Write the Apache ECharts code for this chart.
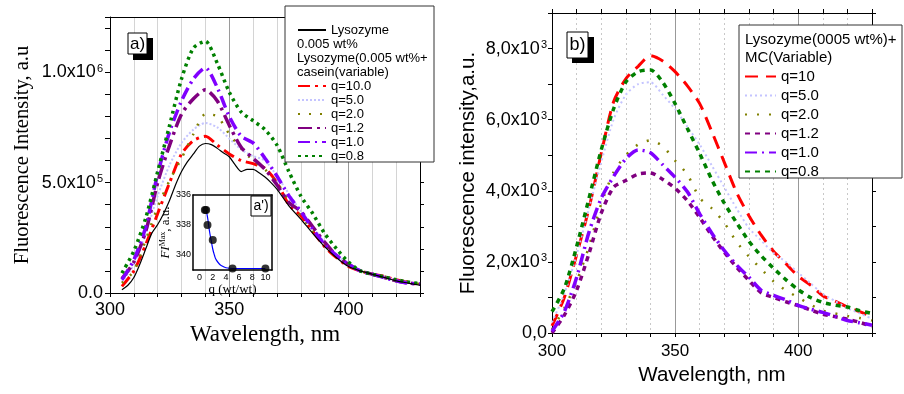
<!DOCTYPE html>
<html><head><meta charset="utf-8">
<script src="https://cdn.jsdelivr.net/npm/echarts@6/dist/echarts.min.js"></script>
<style>html,body{margin:0;padding:0;background:#fff}#c{width:904px;height:394px}</style>
</head><body><div id="c"></div>
<script>
// ---------- Panel a) casein, intensity in units of 10^6 ----------
const wlA = [305,310,315,320,325,330,335,340,345,350,355,360,365,370,375,380,385,390,395,400,405,410,415,420,425,430];
const wlLyso = [305,307.5,310,312.5,315,317.5,320,322.5,325,327.5,330,332.5,335,337.5,340,342.5,345,347.5,350,352.5,355,357.5,360,362.5,365,367.5,370,375,380,385,390,395,400,405,410,415,420,425,430];
const lysoA = [0.015,0.035,0.07,0.13,0.2,0.27,0.31,0.36,0.42,0.49,0.55,0.595,0.63,0.665,0.677,0.672,0.655,0.635,0.617,0.58,0.55,0.56,0.56,0.545,0.525,0.5,0.47,0.395,0.335,0.27,0.21,0.16,0.12,0.1,0.085,0.07,0.055,0.045,0.035];
const q10A  = [0.03,0.1,0.22,0.36,0.5,0.63,0.69,0.71,0.67,0.63,0.6,0.586,0.565,0.5,0.4,0.35,0.28,0.21,0.16,0.12,0.1,0.085,0.075,0.06,0.05,0.035];
const q5A   = [0.05,0.13,0.27,0.44,0.58,0.68,0.74,0.77,0.75,0.7,0.65,0.62,0.6,0.53,0.45,0.37,0.3,0.23,0.17,0.13,0.1,0.085,0.075,0.06,0.05,0.04];
const q2A   = [0.045,0.1,0.24,0.39,0.51,0.61,0.72,0.81,0.8,0.72,0.655,0.6,0.56,0.5,0.42,0.35,0.28,0.22,0.17,0.13,0.1,0.085,0.075,0.06,0.05,0.04];
const q12A  = [0.065,0.14,0.28,0.5,0.67,0.81,0.88,0.92,0.87,0.76,0.66,0.61,0.56,0.49,0.41,0.37,0.3,0.23,0.17,0.13,0.1,0.085,0.07,0.055,0.045,0.04];
const q1A   = [0.06,0.15,0.3,0.54,0.73,0.87,0.97,1.02,0.93,0.8,0.71,0.68,0.61,0.53,0.44,0.37,0.29,0.22,0.17,0.13,0.1,0.085,0.07,0.055,0.045,0.04];
const q08A  = [0.09,0.19,0.34,0.55,0.76,0.97,1.11,1.14,1.04,0.91,0.82,0.78,0.74,0.67,0.55,0.44,0.36,0.27,0.2,0.14,0.1,0.085,0.073,0.06,0.05,0.042];

// ---------- Panel b) MC, intensity in units of 10^3 ----------
const wlB = [300,305,310,315,320,325,330,335,340,345,350,355,360,365,370,375,380,385,390,395,400,405,410,415,420,425,430];
const q10B  = [0.2,1.0,2.2,3.5,5.05,6.5,7.15,7.5,7.8,7.65,7.35,6.95,6.45,5.65,4.8,3.95,3.3,2.75,2.3,1.95,1.6,1.35,1.05,0.9,0.73,0.6,0.46];
const q5B   = [0.3,1.1,2.2,3.5,4.8,6.0,6.7,7.0,7.05,6.7,6.3,5.8,5.3,4.7,4.1,3.5,2.95,2.6,2.25,2.0,1.7,1.4,1.1,0.9,0.7,0.55,0.4];
const q2B   = [0.1,0.7,1.45,2.43,3.63,4.52,5.0,5.3,5.42,5.25,4.85,4.46,3.8,3.5,3.1,2.56,2.15,1.8,1.45,1.2,1.0,0.8,0.63,0.55,0.48,0.42,0.35];
const q12B  = [0.0,0.5,1.2,2.23,3.37,4.1,4.29,4.47,4.5,4.32,4.07,3.72,3.25,2.73,2.27,1.85,1.48,1.13,1.0,0.88,0.77,0.65,0.53,0.46,0.39,0.3,0.18];
const q1B   = [0.05,0.6,1.56,2.83,3.79,4.4,4.9,5.15,5.07,4.73,4.38,3.97,3.35,2.8,2.32,1.91,1.57,1.2,1.06,0.93,0.78,0.67,0.58,0.47,0.35,0.29,0.22];
const q08B  = [0.6,1.25,2.43,3.78,5.15,6.3,7.06,7.35,7.4,7.05,6.45,5.75,5.05,4.3,3.65,3.1,2.58,2.17,1.82,1.5,1.22,1.0,0.86,0.78,0.73,0.63,0.55];

// ---------- Inset a') ----------
const qInset = [0.8,1.0,1.2,2.0,5.0,10.0];
const peakInset = [337,337,338,339,340.9,340.9];
const qFit = [1.0,1.25,1.5,1.75,2.0,2.25,2.5,3.0,3.5,4.0,5.0,7.0,10.0];
const peakFit = [337.0,337.6,338.4,339.0,339.6,340.0,340.3,340.6,340.75,340.85,340.9,340.9,340.9];

// tick labels
const yLabelsA = {0:'{b|0.0}', 500000:'{b|5.0x10}{s|5}', 1000000:'{b|1.0x10}{s|6}'};
const yLabelsB = {0:'{b|0,0}', 2000:'{b|2,0x10}{s|3}', 4000:'{b|4,0x10}{s|3}', 6000:'{b|6,0x10}{s|3}', 8000:'{b|8,0x10}{s|3}'};
const xLabels = {300:'300', 350:'350', 400:'400'};
const insetXLabels = {0:'0',2:'2',4:'4',6:'6',8:'8',10:'10'};
const insetYLabels = {336:'336',338:'338',340:'340'};

const SANS = 'Liberation Sans, Arial, sans-serif';
const SERIF = 'Liberation Serif, Times New Roman, serif';

const pairs = (xs, ys, k) => xs.map((x, i) => [x, ys[i] * k]);

function lineSeries(name, xs, ys, k, color, width, dash, xi, yi, z) {
  return {
    type: 'line', name, xAxisIndex: xi, yAxisIndex: yi,
    data: pairs(xs, ys, k), symbol: 'none', showSymbol: false, smooth: 0.25,
    lineStyle: { color, width, type: dash }, itemStyle: { color }, z: z || 2,
    emphasis: { disabled: true }
  };
}

const richA = { b: { fontSize: 18, fontFamily: SANS, color: '#000' }, s: { fontSize: 11, fontFamily: SANS, color: '#000', verticalAlign: 'top', padding: [0,0,0,1] } };
const legendItemStyle = { color: 'rgba(0,0,0,0)', borderWidth: 0, opacity: 0 };

const option = {
  animation: false,
  backgroundColor: '#fff',
  grid: [
    { left: 110, top: 17, width: 310, height: 276 },
    { left: 552, top: 13, width: 320, height: 320 },
    { left: 193, top: 195, width: 79, height: 75 }
  ],
  xAxis: [
    { // 0 left bottom
      type: 'value', gridIndex: 0, position: 'bottom', min: 300, max: 430, interval: 10,
      axisLine: { onZero: false, lineStyle: { color: '#000', width: 1 } },
      axisTick: { show: true, inside: false, length: 4, lineStyle: { color: '#000' } },
      axisLabel: { formatter: v => xLabels[v] || '', fontSize: 18, fontFamily: SANS, color: '#000', margin: 8, showMaxLabel: true },
      splitLine: { show: true, showMinLine: false, showMaxLine: false, lineStyle: { color: '#d4d4d4', width: 1 } },
      name: 'Wavelength, nm', nameLocation: 'middle', nameGap: 25,
      nameTextStyle: { fontSize: 23, fontFamily: SERIF, color: '#000' }
    },
    { // 1 left top border
      type: 'value', gridIndex: 0, position: 'top', min: 300, max: 430, interval: 10,
      axisLine: { onZero: false, lineStyle: { color: '#000' } }, axisTick: { show: false }, axisLabel: { show: false }, splitLine: { show: false }
    },
    { // 2 left darker grid lines
      type: 'value', gridIndex: 0, position: 'top', offset: 0, min: 300, max: 430, interval: 50,
      axisLine: { show: false }, axisTick: { show: false }, axisLabel: { show: false },
      splitLine: { show: true, showMinLine: false, showMaxLine: false, lineStyle: { color: '#9a9a9a', width: 1 } }
    },
    { // 3 right bottom
      type: 'value', gridIndex: 1, position: 'bottom', min: 300, max: 430, interval: 10,
      axisLine: { onZero: false, lineStyle: { color: '#000', width: 1 } },
      axisTick: { show: true, inside: false, length: 4, lineStyle: { color: '#000' } },
      axisLabel: { formatter: v => xLabels[v] || '', fontSize: 17, fontFamily: SANS, color: '#000', margin: 10 },
      splitLine: { show: true, showMinLine: false, showMaxLine: false, lineStyle: { color: '#c8c8c8', width: 1, type: [2, 3] } },
      name: 'Wavelength, nm', nameLocation: 'middle', nameGap: 28,
      nameTextStyle: { fontSize: 20.5, fontFamily: SANS, color: '#000' }
    },
    { // 4 right top
      type: 'value', gridIndex: 1, position: 'top', min: 300, max: 430, interval: 10,
      axisLine: { onZero: false, lineStyle: { color: '#000' } },
      axisTick: { show: true, inside: false, length: 4, lineStyle: { color: '#000' } },
      axisLabel: { show: false }, splitLine: { show: false }
    },
    { // 5 right darker grid lines
      type: 'value', gridIndex: 1, position: 'top', min: 300, max: 430, interval: 50,
      axisLine: { show: false }, axisTick: { show: false }, axisLabel: { show: false },
      splitLine: { show: true, showMinLine: false, showMaxLine: false, lineStyle: { color: '#999', width: 1 } }
    },
    { // 6 inset bottom
      type: 'value', gridIndex: 2, position: 'bottom', min: -1, max: 11, interval: 1,
      axisLine: { onZero: false, lineStyle: { color: '#000', width: 1.5 } },
      axisTick: { show: false },
      axisLabel: { formatter: v => insetXLabels[v] || '', fontSize: 9, fontFamily: SANS, color: '#000', margin: 3 },
      splitLine: { show: false },
      name: 'q (wt/wt)', nameLocation: 'middle', nameGap: 12,
      nameTextStyle: { fontSize: 13, fontFamily: SERIF, color: '#000' }
    },
    { // 7 inset top
      type: 'value', gridIndex: 2, position: 'top', min: -1, max: 11, interval: 1,
      axisLine: { onZero: false, lineStyle: { color: '#000', width: 1.5 } }, axisTick: { show: false }, axisLabel: { show: false }, splitLine: { show: false }
    }
  ],
  yAxis: [
    { // 0 left
      type: 'value', gridIndex: 0, position: 'left', min: 0, max: 1250000, interval: 100000,
      axisLine: { show: true, onZero: false, lineStyle: { color: '#000' } },
      axisTick: { show: true, inside: false, length: 5, lineStyle: { color: '#000' } },
      axisLabel: { formatter: v => yLabelsA[v] || '', margin: 7, rich: richA },
      splitLine: { show: false },
      name: 'Fluorescence Intensity, a.u', nameLocation: 'middle', nameGap: 77,
      nameTextStyle: { fontSize: 20.5, fontFamily: SERIF, color: '#000' }
    },
    { // 1 left-panel right border
      type: 'value', gridIndex: 0, position: 'right', min: 0, max: 1250000, interval: 100000,
      axisLine: { show: true, onZero: false, lineStyle: { color: '#000' } },
      axisTick: { show: true, inside: false, length: 4, lineStyle: { color: '#000' } },
      axisLabel: { show: false }, splitLine: { show: false }
    },
    { // 2 right panel left
      type: 'value', gridIndex: 1, position: 'left', min: 0, max: 9000, interval: 1000,
      axisLine: { show: true, onZero: false, lineStyle: { color: '#000' } },
      axisTick: { show: true, inside: false, length: 4, lineStyle: { color: '#000' } },
      axisLabel: { formatter: v => yLabelsB[v] || '', margin: 5, rich: richA },
      splitLine: { show: false },
      name: 'Fluorescence intensity,a.u.', nameLocation: 'middle', nameGap: 73,
      nameTextStyle: { fontSize: 20.5, fontFamily: SANS, color: '#000' }
    },
    { // 3 right panel right border
      type: 'value', gridIndex: 1, position: 'right', min: 0, max: 9000, interval: 1000,
      axisLine: { show: true, onZero: false, lineStyle: { color: '#000' } },
      axisTick: { show: true, inside: false, length: 4, lineStyle: { color: '#000' } },
      axisLabel: { show: false }, splitLine: { show: false }
    },
    { // 4 inset left
      type: 'value', gridIndex: 2, position: 'left', inverse: true, min: 336, max: 341, interval: 1,
      axisLine: { show: true, onZero: false, lineStyle: { color: '#000', width: 1.5 } },
      axisTick: { show: false },
      axisLabel: { formatter: v => insetYLabels[v] || '', fontSize: 9, fontFamily: SANS, color: '#000', margin: 2 },
      splitLine: { show: false },
      name: '{i|FI}{s|Max}{n|, a.u.}', nameLocation: 'middle', nameGap: 19,
      nameTextStyle: { color: '#000', rich: {
        i: { fontSize: 13, fontFamily: SERIF, fontStyle: 'italic', color: '#000' },
        s: { fontSize: 8, fontFamily: SERIF, color: '#000', verticalAlign: 'top' },
        n: { fontSize: 13, fontFamily: SERIF, color: '#000' } } }
    },
    { // 5 inset right
      type: 'value', gridIndex: 2, position: 'right', inverse: true, min: 336, max: 341, interval: 1,
      axisLine: { show: true, onZero: false, lineStyle: { color: '#000', width: 1.5 } }, axisTick: { show: false }, axisLabel: { show: false }, splitLine: { show: false }
    }
  ],
  legend: [
    { data: ['Lysozyme'], left: 297, top: 23, orient: 'vertical', padding: 0, itemGap: 0, itemWidth: 28, itemHeight: 10,
      selectedMode: false, z: 10, itemStyle: legendItemStyle, textStyle: { fontSize: 13, lineHeight: 14, fontFamily: SANS, color: '#000' } },
    { data: ['q=10.0','q=5.0','q=2.0','q=1.2','q=1.0','q=0.8'], left: 297, top: 79, orient: 'vertical', padding: 0, itemGap: 0,
      itemWidth: 28, itemHeight: 10, selectedMode: false, z: 10, itemStyle: legendItemStyle,
      textStyle: { fontSize: 13, lineHeight: 14, fontFamily: SANS, color: '#000' } },
    { data: ['b q=10','b q=5.0','b q=2.0','b q=1.2','b q=1.0','b q=0.8'], left: 744, top: 67, orient: 'vertical', padding: 0, itemGap: 0,
      itemWidth: 31, itemHeight: 10, selectedMode: false, z: 10, itemStyle: legendItemStyle, formatter: n => n.replace(/^b /, ''),
      textStyle: { fontSize: 15, lineHeight: 19, fontFamily: SANS, color: '#000' } }
  ],
  series: [
    lineSeries('Lysozyme', wlLyso, lysoA, 1e6, '#000000', 1.2, 'solid', 0, 0, 3),
    lineSeries('q=10.0', wlA, q10A, 1e6, '#ff0000', 3, [12,5,3,5], 0, 0),
    lineSeries('q=5.0', wlA, q5A, 1e6, '#c4c4ff', 2, [2,2], 0, 0),
    lineSeries('q=2.0', wlA, q2A, 1e6, '#808000', 2.5, [2,9], 0, 0),
    lineSeries('q=1.2', wlA, q12A, 1e6, '#800080', 3.5, [14,5,3,5], 0, 0),
    lineSeries('q=1.0', wlA, q1A, 1e6, '#8000ff', 3.5, [12,5,2,5], 0, 0),
    lineSeries('q=0.8', wlA, q08A, 1e6, '#008000', 3.5, [3,4], 0, 0),

    lineSeries('b q=10', wlB, q10B, 1e3, '#ff0000', 3, [13,8], 3, 2),
    lineSeries('b q=5.0', wlB, q5B, 1e3, '#c4c4ff', 2, [2,3], 3, 2),
    lineSeries('b q=2.0', wlB, q2B, 1e3, '#808000', 2.5, [2,10], 3, 2),
    lineSeries('b q=1.2', wlB, q12B, 1e3, '#800080', 3.5, [5,5], 3, 2),
    lineSeries('b q=1.0', wlB, q1B, 1e3, '#8000ff', 3.5, [12,5,2,5], 3, 2),
    lineSeries('b q=0.8', wlB, q08B, 1e3, '#008000', 3.5, [5,5], 3, 2),

    { type: 'line', name: 'fit', xAxisIndex: 6, yAxisIndex: 4, data: pairs(qFit, peakFit, 1), symbol: 'none', smooth: true,
      lineStyle: { color: '#0000ff', width: 1.2 }, z: 3 },
    { type: 'scatter', name: 'peak', xAxisIndex: 6, yAxisIndex: 4, data: pairs(qInset, peakInset, 1), symbolSize: 8,
      itemStyle: { color: '#000' }, z: 4 }
  ],
  graphic: [
    // legend boxes
    { type: 'rect', z: 5, shape: { x: 285, y: 6, width: 149, height: 156 }, style: { fill: '#fff', stroke: '#333', lineWidth: 1 } },
    { type: 'text', z: 11, x: 297, y: 44, style: { text: '0.005 wt%', fontSize: 13, fontFamily: SANS, fill: '#000', verticalAlign: 'middle' } },
    { type: 'text', z: 11, x: 297, y: 58, style: { text: 'Lysozyme(0.005 wt%+', fontSize: 13, fontFamily: SANS, fill: '#000', verticalAlign: 'middle' } },
    { type: 'text', z: 11, x: 297, y: 72, style: { text: 'casein(variable)', fontSize: 13, fontFamily: SANS, fill: '#000', verticalAlign: 'middle' } },
    { type: 'rect', z: 5, shape: { x: 739, y: 25, width: 163, height: 153 }, style: { fill: '#fff', stroke: '#333', lineWidth: 1 } },
    { type: 'text', z: 11, x: 745, y: 40, style: { text: 'Lysozyme(0005 wt%)+', fontSize: 15, fontFamily: SANS, fill: '#000', verticalAlign: 'middle' } },
    { type: 'text', z: 11, x: 745, y: 58, style: { text: 'MC(Variable)', fontSize: 15, fontFamily: SANS, fill: '#000', verticalAlign: 'middle' } },
    // panel tags
    { type: 'rect', z: 6, shape: { x: 133, y: 38, width: 20, height: 22 }, style: { fill: '#000' } },
    { type: 'rect', z: 7, shape: { x: 128, y: 33, width: 19, height: 21 }, style: { fill: '#fff', stroke: '#000', lineWidth: 1 } },
    { type: 'text', z: 8, x: 137.5, y: 44, style: { text: 'a)', fontSize: 17, fontFamily: SANS, fill: '#000', align: 'center', verticalAlign: 'middle' } },
    { type: 'rect', z: 6, shape: { x: 572, y: 37, width: 22, height: 26 }, style: { fill: '#000' } },
    { type: 'rect', z: 7, shape: { x: 567, y: 32, width: 21, height: 26 }, style: { fill: '#fff', stroke: '#000', lineWidth: 1 } },
    { type: 'text', z: 8, x: 577.5, y: 45, style: { text: 'b)', fontSize: 18, fontFamily: SANS, fill: '#000', align: 'center', verticalAlign: 'middle' } },
    { type: 'rect', z: 7, shape: { x: 251, y: 196, width: 20, height: 20 }, style: { fill: '#fff', stroke: '#000', lineWidth: 1 } },
    { type: 'text', z: 8, x: 261, y: 206.5, style: { text: "a')", fontSize: 14, fontFamily: SANS, fill: '#000', align: 'center', verticalAlign: 'middle' } }
  ]
};

const chart = echarts.init(document.getElementById('c'), null, { renderer: 'canvas', width: 904, height: 394 });
chart.setOption(option);
</script>
</body></html>
